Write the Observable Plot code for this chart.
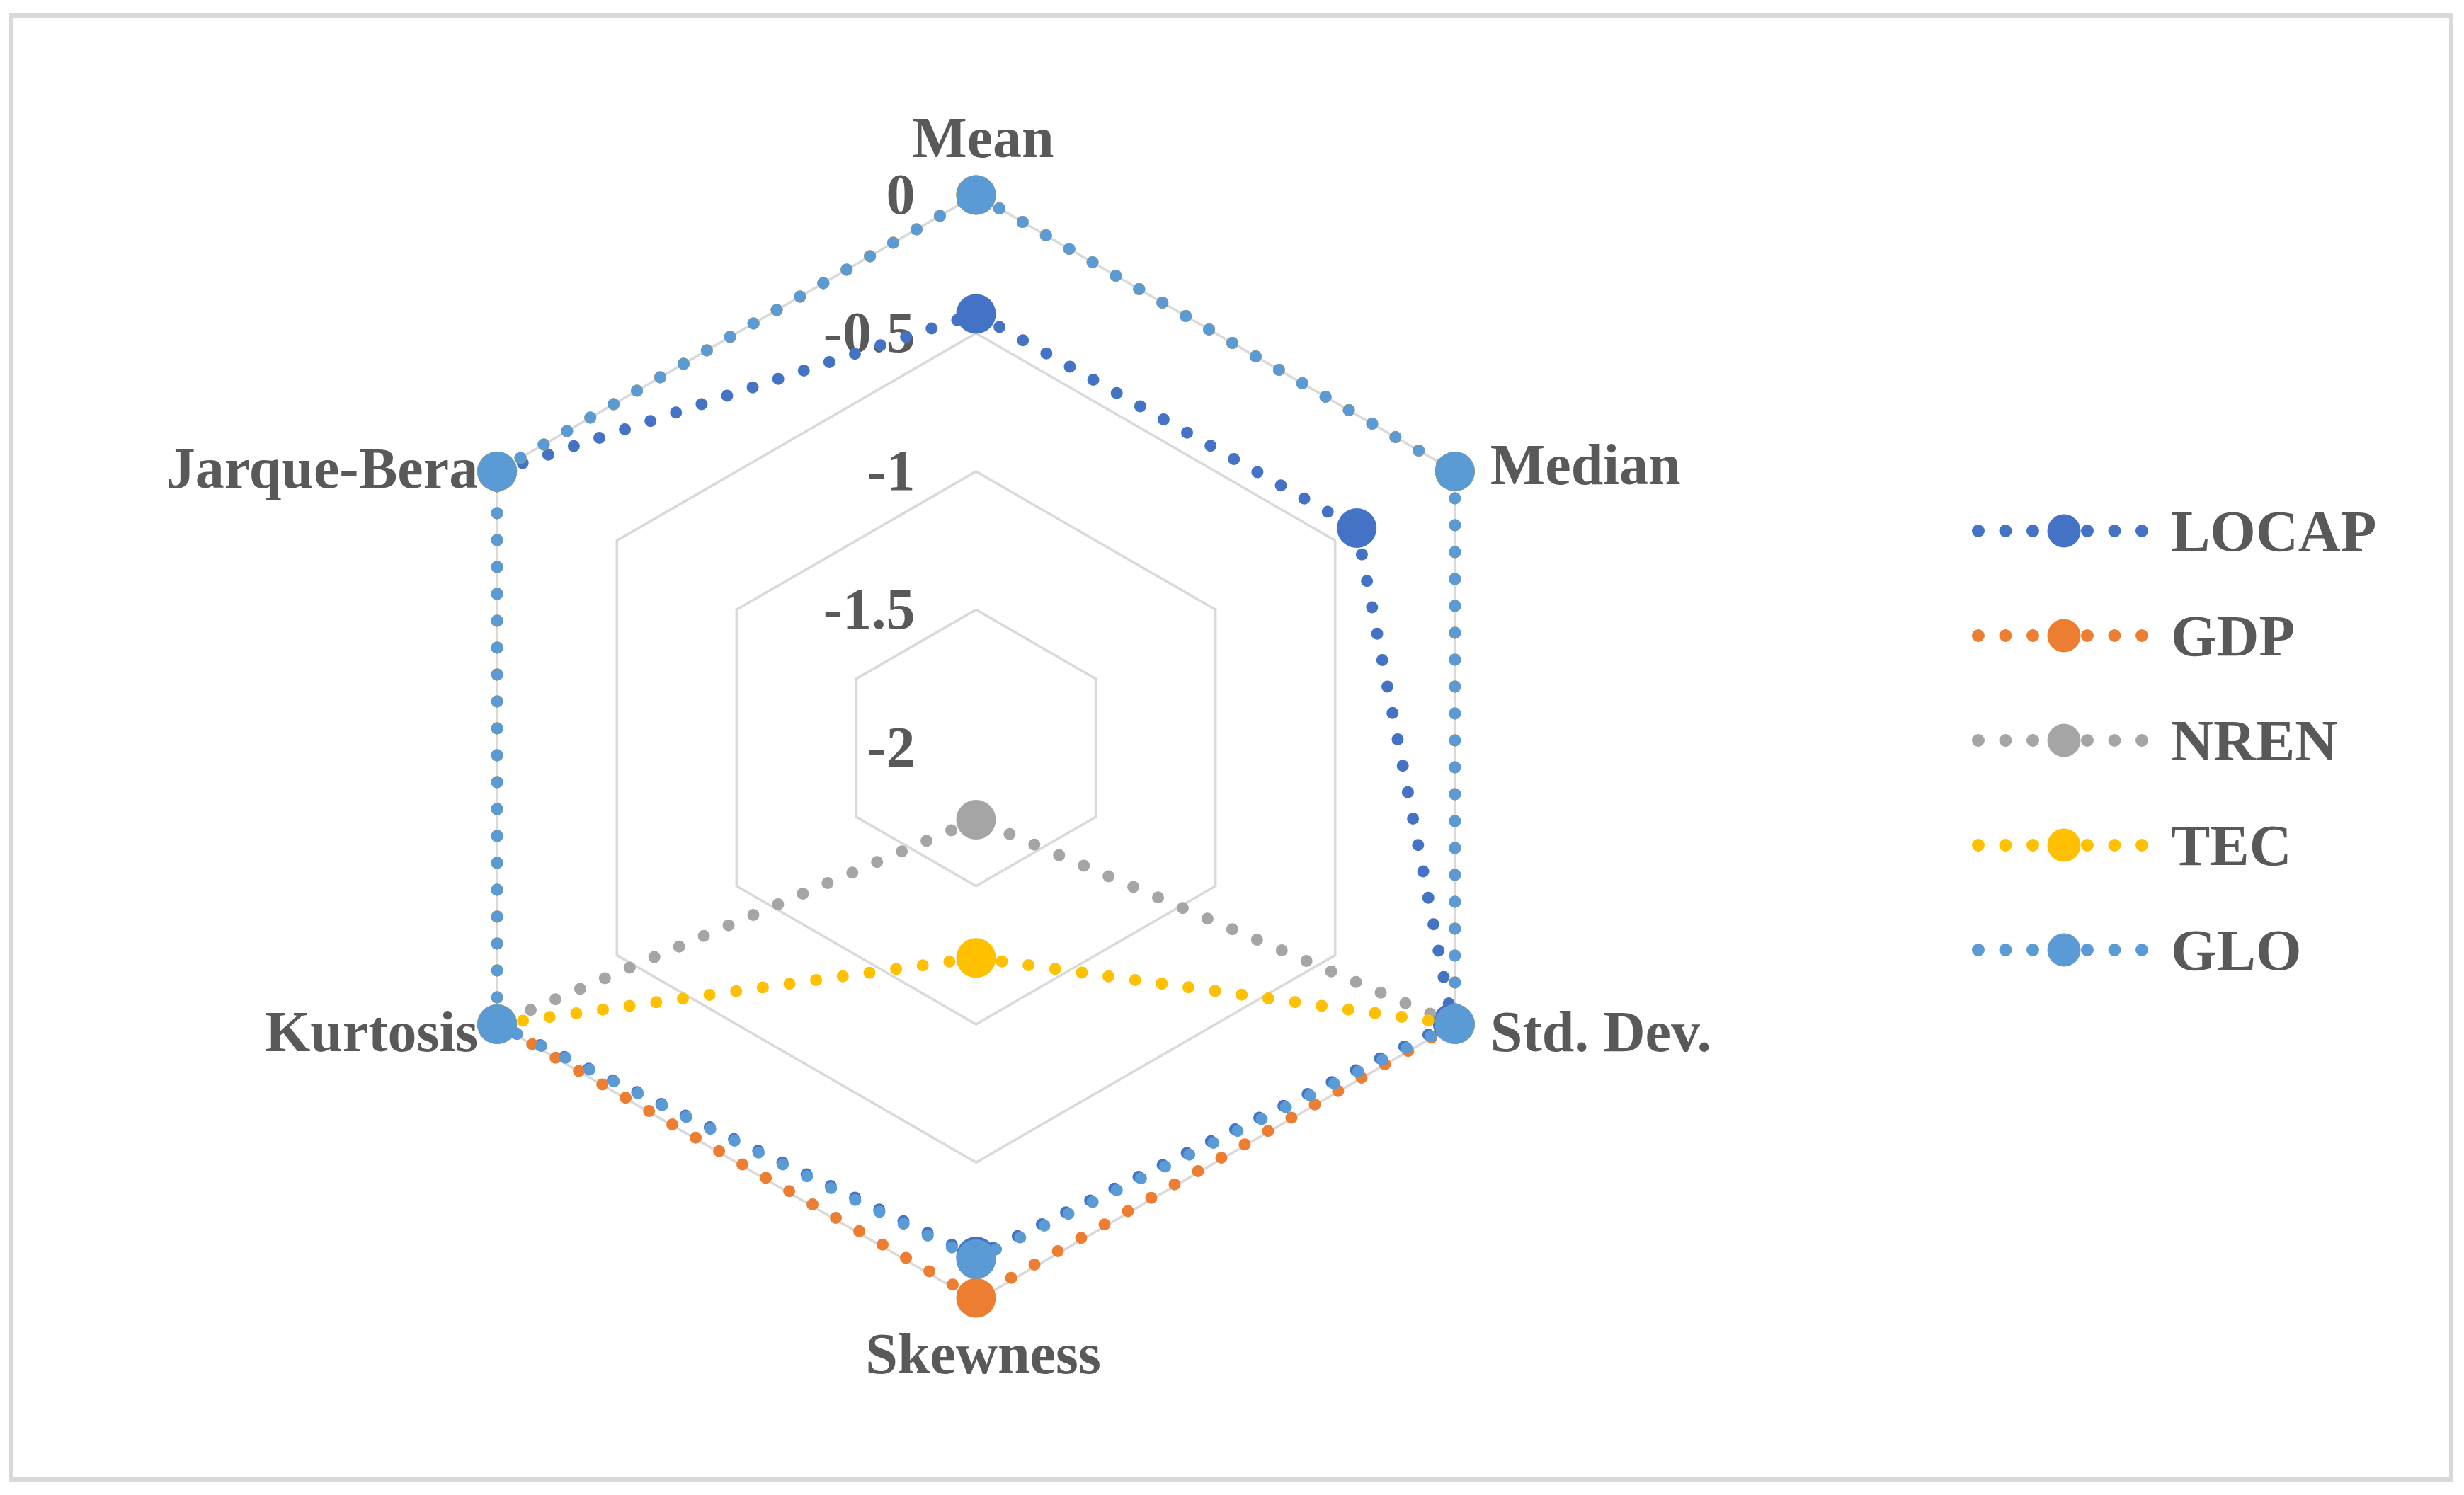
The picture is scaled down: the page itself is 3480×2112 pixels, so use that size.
<!DOCTYPE html>
<html>
<head>
<meta charset="utf-8">
<script src="https://cdn.jsdelivr.net/npm/d3@7"></script>
<script src="https://cdn.jsdelivr.net/npm/@observablehq/plot@0.6"></script>
<style>
  html, body { margin: 0; padding: 0; background: #ffffff; }
  #page { position: relative; width: 3480px; height: 2112px; overflow: hidden; background: #ffffff; }
  #chart { position: absolute; left: 0; top: 0; }
  #frame { position: absolute; left: 13px; top: 19px; width: 3452px; height: 2074px; box-sizing: border-box; border: 6px solid #d9d9d9; pointer-events: none; }
  #legend { position: absolute; left: 2778px; top: 676px; font-family: "Liberation Serif", "Times New Roman", serif; font-weight: bold; font-size: 83px; color: #595959; }
  .row { display: flex; align-items: center; height: 148px; }
  .row span { line-height: 1; margin-left: 18px; }
</style>
</head>
<body>
<div id="page">
  <div id="chart"></div>
  <div id="legend"></div>
  <div id="frame"></div>
</div>
<script>
// ---- data ----
const axes = ["Mean", "Median", "Std. Dev.", "Skewness", "Kurtosis", "Jarque-Bera"];
const seriesNames = ["LOCAP", "GDP", "NREN", "TEC", "GLO"];
// values per axis (order as in `axes`); values below the -2 minimum are drawn through the centre (as the original radar does)
const LOCAP = [-0.43, -0.41, -0.01, -0.16, 0, 0];
const GDP   = [0, 0, 0, -0.01, 0, 0];
const NREN  = [-2.26, -4, -4, -4, -4, -4];
const TEC   = [-2.76, -4, -4, -4, -4, -4];
const GLO   = [0, 0, 0, -0.15, 0, 0];
const tickValues = [0, -0.5, -1, -1.5, -2];
const tickLabels = ["0", "-0.5", "-1", "-1.5", "-2"];

// ---- styles ----
const palette = ["#4472C4", "#ED7D31", "#A5A5A5", "#FFC000", "#5B9BD5"];
const textColor = "#595959";
const fontFamily = '"Liberation Serif", "Times New Roman", serif';
const fontSize = 82;

const seriesValues = {LOCAP, GDP, NREN, TEC, GLO};
const rows = seriesNames.flatMap(s => axes.map((a, i) => ({series: s, axis: a, value: seriesValues[s][i]})));
// one segment per pair of neighbouring axes (dash pattern restarts on each segment)
const segments = seriesNames.flatMap(s => axes.map((a, i) => {
  const j = (i + 1) % axes.length;
  return {series: s, axis: a, value: seriesValues[s][i], axis2: axes[j], value2: seriesValues[s][j]};
}));

// radial scale: axis minimum at the centre, maximum on the outer ring
const rNorm = d3.scaleLinear().domain([-2, 0]).range([0, 1]);
const angle = a => axes.indexOf(a) * 2 * Math.PI / axes.length;
const px = d => rNorm(d.value) * Math.sin(angle(d.axis));
const py = d => rNorm(d.value) * Math.cos(angle(d.axis));
const px2 = d => rNorm(d.value2) * Math.sin(angle(d.axis2));
const py2 = d => rNorm(d.value2) * Math.cos(angle(d.axis2));

const ringValues = tickValues.filter(t => t > -2);
const rings = ringValues.flatMap(v => axes.map(a => ({ring: v, axis: a, value: v})));
const ticks = tickValues.map((v, i) => ({value: v, axis: "Mean", label: tickLabels[i]}));
const labels = axes.map(a => ({axis: a, value: 0}));

const labelPlacement = {
  "Mean": {dx: 10, dy: -80, textAnchor: "middle"},
  "Median": {dx: 50, dy: -8, textAnchor: "start"},
  "Std. Dev.": {dx: 50, dy: 12, textAnchor: "start"},
  "Skewness": {dx: 10, dy: 76, textAnchor: "middle"},
  "Kurtosis": {dx: -27, dy: 12, textAnchor: "end"},
  "Jarque-Bera": {dx: -27, dy: -3, textAnchor: "end"}
};

const cx = 1378, cy = 1056, R = 781;

const marks = [
  Plot.line(rings, {x: px, y: py, z: "ring", curve: "linear-closed", stroke: "#d9d9d9", strokeWidth: 3.5}),
  Plot.text(ticks, {x: px, y: py, text: "label", textAnchor: "end", lineAnchor: "middle", dx: -86,
    fill: textColor, fontSize, fontWeight: "bold", fontFamily}),
  ...axes.map(a => Plot.text(labels.filter(d => d.axis === a), {x: px, y: py, text: "axis",
    lineAnchor: "middle", ...labelPlacement[a], fill: textColor, fontSize, fontWeight: "bold", fontFamily}))
];
for (const s of seriesNames) {
  marks.push(Plot.link(segments.filter(d => d.series === s), {x1: px, y1: py, x2: px2, y2: py2, stroke: "series",
    strokeWidth: 17, strokeDasharray: "0 38", strokeLinecap: "round"}));
  marks.push(Plot.dot(rows.filter(d => d.series === s), {x: px, y: py, fill: "series", r: 28, stroke: "none"}));
}

const chart = Plot.plot({
  width: 2700,
  height: 2112,
  margin: 0,
  style: {background: "transparent", overflow: "visible"},
  x: {domain: [-1, 1], range: [cx - R, cx + R], axis: null},
  y: {domain: [-1, 1], range: [cy + R, cy - R], axis: null},
  color: {domain: seriesNames, range: palette},
  marks
});
document.getElementById("chart").appendChild(chart);

// ---- legend ----
const legend = document.getElementById("legend");
const ns = "http://www.w3.org/2000/svg";
seriesNames.forEach((s, i) => {
  const row = document.createElement("div");
  row.className = "row";
  const svg = document.createElementNS(ns, "svg");
  svg.setAttribute("width", 270);
  svg.setAttribute("height", 60);
  const line = document.createElementNS(ns, "line");
  line.setAttribute("x1", 16); line.setAttribute("x2", 248);
  line.setAttribute("y1", 30); line.setAttribute("y2", 30);
  line.setAttribute("stroke", palette[i]);
  line.setAttribute("stroke-width", 18);
  line.setAttribute("stroke-dasharray", "0 38.5");
  line.setAttribute("stroke-linecap", "round");
  svg.appendChild(line);
  const c = document.createElementNS(ns, "circle");
  c.setAttribute("cx", 137); c.setAttribute("cy", 30); c.setAttribute("r", 23.5);
  c.setAttribute("fill", palette[i]);
  svg.appendChild(c);
  row.appendChild(svg);
  const t = document.createElement("span");
  t.textContent = s;
  row.appendChild(t);
  legend.appendChild(row);
});
</script>
</body>
</html>
